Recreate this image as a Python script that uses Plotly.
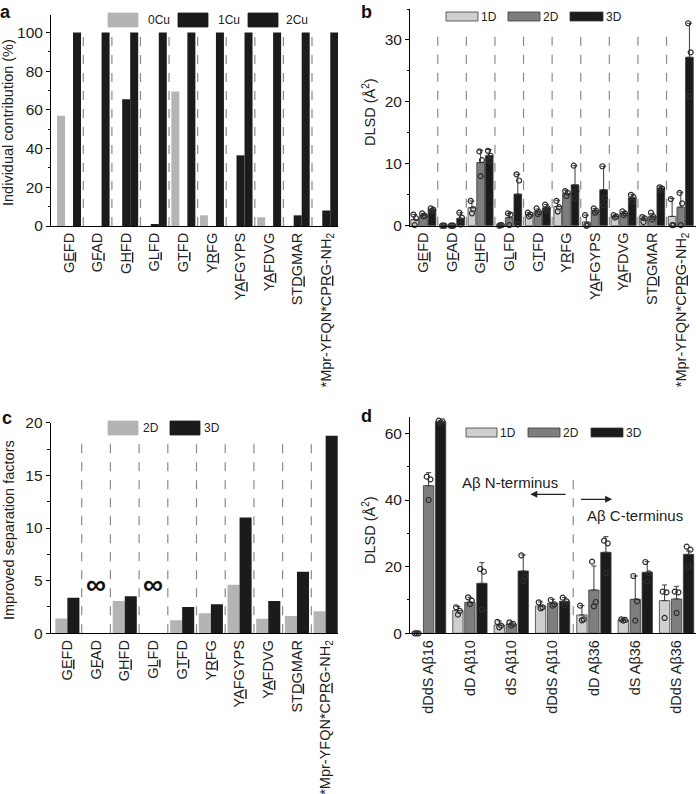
import plotly.graph_objects as go

W, H = 696, 794
FONT = "Liberation Sans, Arial, sans-serif"

# ---------------- data ----------------
peptides = ["G<u>E</u>FD", "G<u>F</u>AD", "G<u>H</u>FD", "G<u>L</u>FD", "G<u>T</u>FD",
            "Y<u>R</u>FG", "Y<u>A</u>FGYPS", "Y<u>A</u>FDVG", "ST<u>D</u>GMAR",
            "*Mpr-YFQN*CP<u>R</u>G-NH<sub>2</sub>"]

# panel a: individual contribution (%)
a_series = ["0Cu", "1Cu", "2Cu"]
a_0cu = [57, 0, 0, 0, 69.5, 5.5, 0, 4.5, 0, 0]
a_1cu = [0, 0, 65.5, 0.6, 0, 0, 36.5, 0, 5.5, 8]
a_2cu = [100, 100, 100, 100, 100, 100, 100, 100, 100, 100]

# panel b: DLSD (Å^2) per peptide
b_series = ["1D", "2D", "3D"]
b_1d = [1.0, 0.05, 2.9, 0.1, 1.8, 3.1, 0.6, 1.5, 1.1, 1.5]
b_2d = [1.7, 0.05, 10.2, 1.3, 2.3, 5.2, 2.4, 2.0, 1.5, 3.0]
b_3d = [2.6, 1.2, 11.3, 5.1, 2.9, 6.6, 5.8, 4.5, 6.0, 27.2]
b_1d_err = [0.8, 0, 1.1, 0, 0.3, 1.0, 1.1, 0.2, 0.3, 2.9]
b_2d_err = [0.3, 0, 2.0, 0.7, 0.4, 0.5, 0.4, 0.3, 0.5, 2.4]
b_3d_err = [0.2, 0.9, 1.0, 3.2, 0.5, 3.1, 3.8, 0.6, 0.3, 5.5]
b_1d_pts = [[1.8, 1.2, 0.1], [0, 0, 0], [4.0, 2.7, 2.0], [0, 0.1, 0.1], [2.1, 1.8, 1.5],
            [4.0, 3.0, 2.3], [1.7, 0.1, 0.0], [1.7, 1.5, 1.3], [1.4, 1.2, 0.6], [4.3, 0.1, 0.1]]
b_2d_pts = [[2.0, 1.6, 1.5], [0, 0, 0], [12.0, 10.6, 8.0], [2.0, 1.8, 0.1], [2.8, 2.2, 1.9],
            [5.6, 5.3, 4.8], [2.8, 2.4, 2.1], [2.3, 2.0, 1.7], [2.1, 1.4, 1.0], [5.3, 3.6, 0.1]]
b_3d_pts = [[2.8, 2.6, 2.4], [2.1, 1.3, 0.2], [12.1, 11.3, 10.5], [8.3, 7.3, 0.2], [3.4, 2.8, 2.5],
            [9.7, 5.6, 4.5], [9.6, 4.5, 3.3], [5.0, 4.6, 3.9], [6.2, 6.0, 5.8], [32.7, 28.0, 20.9]]

# panel c: improved separation factors (None = infinite)
c_series = ["2D", "3D"]
c_2d = [1.4, None, 3.07, None, 1.23, 1.9, 4.6, 1.39, 1.64, 2.09]
c_3d = [3.38, None, 3.51, None, 2.5, 2.75, 11.0, 3.07, 5.85, 18.77]

# panel d: DLSD (Å^2) for Aβ fragments
d_cats = ["dDdS Aβ16", "dD Aβ10", "dS Aβ10", "dDdS Aβ10", "dD Aβ36", "dS Aβ36", "dDdS Aβ36"]
d_1d = [0.05, 6.8, 2.5, 8.2, 5.5, 4.0, 9.8]
d_2d = [44.3, 9.3, 2.8, 9.0, 13.0, 10.2, 10.3]
d_3d = [63.5, 15.0, 18.7, 9.6, 24.3, 18.3, 23.7]
d_1d_err = [0, 1.2, 1.2, 1.2, 2.8, 0.3, 4.7]
d_2d_err = [3.9, 1.5, 0.6, 1.2, 7.2, 7.0, 3.8]
d_3d_err = [0.3, 6.2, 4.8, 1.1, 4.7, 3.2, 1.0]
d_1d_pts = [[0, 0, 0], [7.8, 6.7, 5.6], [3.4, 2.3, 1.8], [9.3, 7.8, 7.5], [8.3, 4.2, 3.9],
            [4.2, 4.0, 3.8], [12.5, 12.3, 4.6]]
d_2d_pts = [[47.0, 46.2, 40.0], [10.8, 9.8, 8.8], [3.3, 2.8, 2.3], [10.0, 8.7, 8.3],
            [21.5, 9.4, 8.1], [17.2, 9.6, 3.8], [12.5, 12.3, 6.1]]
d_3d_pts = [[63.8, 63.6, 63.2], [19.3, 18.5, 7.2], [23.4, 17.0, 15.7], [10.7, 9.6, 8.5],
            [27.8, 27.0, 18.1], [21.4, 18.0, 15.5], [26.0, 25.1, 20.0]]
d_annot = ["Aβ N-terminus", "Aβ C-terminus"]

# ---------------- styles ----------------
GRAY_L = "#b4b4b4"
BLACK = "#1b1b1b"
C1D, C2D, C3D = "#cfcfcf", "#7e7e7e", "#1b1b1b"
EDGE = "#3a3a3a"
DIV = "#8a8a8a"

fig = go.Figure()


def px_x(p):
    return p / W


def px_y(p):
    return 1 - p / H


def add_bars(xa, ya, vals, color, edge, offset, width, err=None, edgew=0.0):
    xs = list(range(len(vals)))
    kw = {}
    if err is not None:
        kw["error_y"] = dict(type="data", symmetric=False, array=err,
                             arrayminus=[0] * len(err), color=EDGE, thickness=1, width=2.5)
    fig.add_trace(go.Bar(x=xs, y=vals, xaxis=xa, yaxis=ya, offset=offset, width=width,
                         marker=dict(color=color, line=dict(color=edge, width=edgew)),
                         showlegend=False, hoverinfo="skip", **kw))


def add_points(xa, ya, pts, center):
    jit = [-0.045, 0.045, 0.0]
    xs, ys = [], []
    for i, triple in enumerate(pts):
        for k, v in enumerate(triple):
            xs.append(i + center + jit[k % 3])
            ys.append(v)
    fig.add_trace(go.Scatter(x=xs, y=ys, xaxis=xa, yaxis=ya, mode="markers",
                             marker=dict(symbol="circle-open", size=5, color="#2e2e2e",
                                         line=dict(width=1.2, color="#2e2e2e")),
                             showlegend=False, hoverinfo="skip", cliponaxis=False))


# panel a
wa = 0.28
add_bars("x", "y", a_0cu, GRAY_L, GRAY_L, -0.42, wa)
add_bars("x", "y", a_1cu, BLACK, BLACK, -0.14, wa)
add_bars("x", "y", a_2cu, BLACK, BLACK, 0.14, wa)

# panel b
wb = 0.27
offs_b = [-0.44, -0.135, 0.165]
add_bars("x2", "y2", b_1d, C1D, EDGE, offs_b[0], wb, b_1d_err, 0.8)
add_bars("x2", "y2", b_2d, C2D, EDGE, offs_b[1], wb, b_2d_err, 0.8)
add_bars("x2", "y2", b_3d, C3D, EDGE, offs_b[2], wb, b_3d_err, 0.8)
add_points("x2", "y2", b_1d_pts, offs_b[0] + wb / 2)
add_points("x2", "y2", b_2d_pts, offs_b[1] + wb / 2)
add_points("x2", "y2", b_3d_pts, offs_b[2] + wb / 2)

# panel c
wc = 0.42
add_bars("x3", "y3", c_2d, GRAY_L, GRAY_L, -0.42, wc)
add_bars("x3", "y3", c_3d, BLACK, BLACK, 0.0, wc)

# panel d
wd = 0.25
offs_d = [-0.415, -0.125, 0.165]
add_bars("x4", "y4", d_1d, C1D, EDGE, offs_d[0], wd, d_1d_err, 0.8)
add_bars("x4", "y4", d_2d, C2D, EDGE, offs_d[1], wd, d_2d_err, 0.8)
add_bars("x4", "y4", d_3d, C3D, EDGE, offs_d[2], wd, d_3d_err, 0.8)
add_points("x4", "y4", d_1d_pts, offs_d[0] + wd / 2)
add_points("x4", "y4", d_2d_pts, offs_d[1] + wd / 2)
add_points("x4", "y4", d_3d_pts, offs_d[2] + wd / 2)

# ---------------- axes ----------------
TICKF = dict(family=FONT, size=15.5, color="#222")
XTF = dict(family=FONT, size=14.5, color="#222")


def yaxis(domain, rng, dtick, mdtick, anchor):
    return dict(domain=domain, range=rng, anchor=anchor, showline=True, linecolor="black",
                linewidth=1, ticks="outside", ticklen=4, tickwidth=1, tickcolor="black",
                tick0=0, dtick=dtick, showgrid=False, zeroline=False, tickfont=TICKF,
                automargin=False,
                minor=dict(dtick=mdtick, tick0=0, ticks="outside", ticklen=2.5,
                           tickcolor="black", showgrid=False))


def xaxis(domain, rng, labels, anchor):
    return dict(domain=domain, range=rng, anchor=anchor, showline=True, linecolor="black",
                linewidth=1, ticks="", tickvals=list(range(len(labels))), ticktext=labels,
                tickangle=-90, showgrid=False, zeroline=False, tickfont=XTF,
                automargin=False)


fig.update_layout(
    width=W, height=H, margin=dict(l=0, r=0, t=0, b=0, autoexpand=False),
    paper_bgcolor="white", plot_bgcolor="white", barmode="overlay",
    font=dict(family=FONT, color="#222"),
    xaxis=xaxis([px_x(51), px_x(338)], [-0.63, 9.41], peptides, "y"),
    yaxis=yaxis([px_y(226), px_y(15)], [0, 109], 20, 10, "x"),
    xaxis2=xaxis([px_x(410), 1.0], [-0.47, 9.53], peptides, "y2"),
    yaxis2=yaxis([px_y(225.7), px_y(9)], [0, 35], 10, 5, "x2"),
    xaxis3=xaxis([px_x(50.7), px_x(338)], [-0.58, 9.43], peptides, "y3"),
    yaxis3=yaxis([px_y(633.3), px_y(422.7)], [0, 20], 5, 2.5, "x3"),
    xaxis4=xaxis([px_x(410), 1.0], [-0.45, 6.47], d_cats, "y4"),
    yaxis4=yaxis([px_y(633.3), px_y(416.7)], [0, 65], 20, 10, "x4"),
)

shapes = []
annots = []

# dividers
for i in range(9):
    shapes.append(dict(type="line", xref="x", yref="y", x0=i + 0.5, x1=i + 0.5, y0=0, y1=100,
                       line=dict(color=DIV, width=1.2, dash="dash"), layer="above"))
    shapes.append(dict(type="line", xref="x2", yref="y2", x0=i + 0.5, x1=i + 0.5, y0=0, y1=31,
                       line=dict(color=DIV, width=1.2, dash="dash"), layer="above"))
    shapes.append(dict(type="line", xref="x3", yref="y3", x0=i + 0.5, x1=i + 0.5, y0=0, y1=18,
                       line=dict(color=DIV, width=1.2, dash="dash"), layer="above"))
shapes.append(dict(type="line", xref="x4", yref="y4", x0=3.5, x1=3.5, y0=0, y1=48.5,
                   line=dict(color=DIV, width=1.2, dash="dash"), layer="above"))

# infinity marks in panel c
for i, v in enumerate(c_3d):
    if v is None:
        annots.append(dict(xref="x3", yref="y3", x=i, y=4.6, text="<b>∞</b>", showarrow=False,
                           font=dict(family=FONT, size=28, color="#111"), xanchor="center",
                           yanchor="middle"))

# panel d arrows and labels
annots.append(dict(xref="x4", yref="y4", x=1.97, y=45.2, text=d_annot[0], showarrow=False,
                   font=dict(family=FONT, size=15, color="#222")))
annots.append(dict(xref="x4", yref="y4", x=5.0, y=35.5, text=d_annot[1], showarrow=False,
                   font=dict(family=FONT, size=15, color="#222")))
annots.append(dict(xref="x4", yref="y4", x=2.46, y=41.7, ax=3.35, ay=41.7, axref="x4",
                   ayref="y4", text="", showarrow=True, arrowhead=2, arrowsize=1,
                   arrowwidth=1.4, arrowcolor="#222"))
annots.append(dict(xref="x4", yref="y4", x=4.44, y=40.2, ax=3.65, ay=40.2, axref="x4",
                   ayref="y4", text="", showarrow=True, arrowhead=2, arrowsize=1,
                   arrowwidth=1.4, arrowcolor="#222"))


# manual legends
def legend(items, y0, y1):
    for (bx0, bx1, tx, label, fill, edge) in items:
        shapes.append(dict(type="rect", xref="paper", yref="paper", x0=px_x(bx0), x1=px_x(bx1),
                           y0=px_y(y1), y1=px_y(y0), fillcolor=fill,
                           line=dict(color=edge, width=0.8)))
        annots.append(dict(xref="paper", yref="paper", x=px_x(tx), y=px_y((y0 + y1) / 2),
                           text=label, showarrow=False, xanchor="left", yanchor="middle",
                           font=dict(family=FONT, size=12, color="#222")))


legend([(108, 138, 146, a_series[0], GRAY_L, GRAY_L),
        (178, 208, 216, a_series[1], BLACK, BLACK),
        (248, 278, 284, a_series[2], BLACK, BLACK)], 13, 27)
legend([(446, 478, 479, b_series[0], C1D, EDGE),
        (508, 540, 541, b_series[1], C2D, EDGE),
        (570, 603, 604, b_series[2], C3D, EDGE)], 12, 21)
legend([(108, 138, 141, c_series[0], GRAY_L, GRAY_L),
        (170, 200, 202, c_series[1], BLACK, BLACK)], 421, 435)
legend([(466, 497, 498, b_series[0], C1D, EDGE),
        (528, 560, 561, b_series[1], C2D, EDGE),
        (591, 623, 624, b_series[2], C3D, EDGE)], 428, 437)

# y-axis titles
for x, y, t in [(8, 123, "Individual contribution (%)"), (369, 112, "DLSD (Å<sup>2</sup>)"),
                (9, 530, "Improved separation factors"), (369, 530, "DLSD (Å<sup>2</sup>)")]:
    annots.append(dict(xref="paper", yref="paper", x=px_x(x), y=px_y(y), text=t,
                       showarrow=False, textangle=-90, xanchor="center", yanchor="middle",
                       font=dict(family=FONT, size=14.5, color="#222")))

# panel letters
for x, y, t in [(5, 0, "a"), (367, 0, "b"), (7, 406, "c"), (367, 404, "d")]:
    annots.append(dict(xref="paper", yref="paper", x=px_x(x), y=px_y(y), text="<b>%s</b>" % t,
                       showarrow=False, xanchor="center", yanchor="top",
                       font=dict(family=FONT, size=18, color="#111")))

fig.update_layout(shapes=shapes, annotations=annots)
fig.write_html("out.html", config={"displayModeBar": False},
               post_script="document.body.style.margin='0px';document.body.style.padding='0px';")
